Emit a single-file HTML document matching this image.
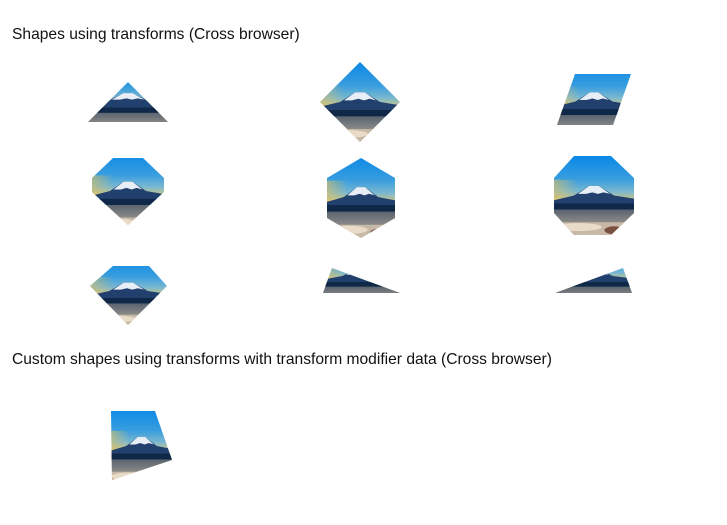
<!DOCTYPE html>
<html><head><meta charset="utf-8"><style>
html,body{margin:0;padding:0;background:#fff;width:727px;height:525px;overflow:hidden}
.t{position:absolute;left:12px;font-family:"Liberation Sans",sans-serif;font-size:15.6px;color:#111}
svg{position:absolute;left:0;top:0}
</style></head><body>
<div class="t" style="top:26px">Shapes using transforms (Cross browser)</div>
<div class="t" style="top:351px">Custom shapes using transforms with transform modifier data (Cross browser)</div>
<svg width="727" height="525" viewBox="0 0 727 525">
<defs>
<linearGradient id="sky" x1="0" y1="0" x2="0" y2="1">
<stop offset="0" stop-color="#0a88e8"/><stop offset="0.3" stop-color="#3a9ede"/><stop offset="0.45" stop-color="#7ab8d0"/><stop offset="0.55" stop-color="#c8c488"/></linearGradient>
<linearGradient id="sky2" x1="0" y1="0" x2="1" y2="0">
<stop offset="0" stop-color="#e0c060" stop-opacity="0.6"/><stop offset="0.3" stop-color="#e0c060" stop-opacity="0"/></linearGradient>
<linearGradient id="lake" x1="0" y1="0" x2="0" y2="1">
<stop offset="0" stop-color="#5a6470"/><stop offset="1" stop-color="#8a8a88"/></linearGradient>
<symbol id="img" viewBox="0 0 100 100" preserveAspectRatio="none">
<rect width="100" height="100" fill="url(#sky)"/>
<rect y="30" width="100" height="28" fill="url(#sky2)"/>
<polygon points="0,56 25,50 44,38 56,38 75,50 100,54 100,68 0,68" fill="#22406e"/>
<polygon points="30,48 44,38 56,38 70,48 62,46 55,48 48,46 40,48" fill="#e8eef6"/>
<rect y="60" width="100" height="8" fill="#0f2848"/>
<rect y="68" width="100" height="16" fill="url(#lake)"/>
<rect y="84" width="100" height="16" fill="#c8b8a8"/>
<ellipse cx="30" cy="90" rx="30" ry="5" fill="#e8dcc8"/>
<ellipse cx="75" cy="94" rx="12" ry="5" fill="#7a5040"/>
</symbol>
<clipPath id="c1"><polygon points="128,82 168,122 88,122"/></clipPath>
<clipPath id="c2"><polygon points="360,62 400,102 360,142 320,102"/></clipPath>
<clipPath id="c3"><polygon points="575,74 631,74 613,125 557,125"/></clipPath>
<clipPath id="c4"><polygon points="113,158 143,158 164,178 164,192 128,225 92,192 92,178"/></clipPath>
<clipPath id="c5"><polygon points="361,158 395,178 395,218 361,238 327,218 327,178"/></clipPath>
<clipPath id="c6"><polygon points="574,156 611,156 634,178 634,213 611,235 574,235 554,213 554,178"/></clipPath>
<clipPath id="c7"><polygon points="113,266 149,266 167,286 128,325 90,286"/></clipPath>
<clipPath id="c8"><polygon points="332,268 400,293 323,293"/></clipPath>
<clipPath id="c9"><polygon points="623,268 632,293 555,293"/></clipPath>
<clipPath id="c10"><polygon points="111,411 155,411 172,460 112,480"/></clipPath>
</defs>
<g clip-path="url(#c1)"><use href="#img" x="88" y="68" width="80" height="66"/></g>
<g clip-path="url(#c2)"><use href="#img" x="320" y="62" width="80" height="80"/></g>
<g clip-path="url(#c3)"><use href="#img" x="557" y="64" width="74" height="75"/></g>
<g clip-path="url(#c4)"><use href="#img" x="92" y="152" width="72" height="78"/></g>
<g clip-path="url(#c5)"><use href="#img" x="327" y="156" width="68" height="82"/></g>
<g clip-path="url(#c6)"><use href="#img" x="554" y="156" width="80" height="79"/></g>
<g clip-path="url(#c7)"><use href="#img" x="90" y="256" width="77" height="70"/></g>
<g clip-path="url(#c8)"><use href="#img" x="323" y="246" width="77" height="60"/></g>
<g clip-path="url(#c9)"><use href="#img" x="555" y="246" width="77" height="60"/></g>
<g clip-path="url(#c10)"><use href="#img" x="111" y="408" width="61" height="76"/></g>
</svg>
</body></html>
